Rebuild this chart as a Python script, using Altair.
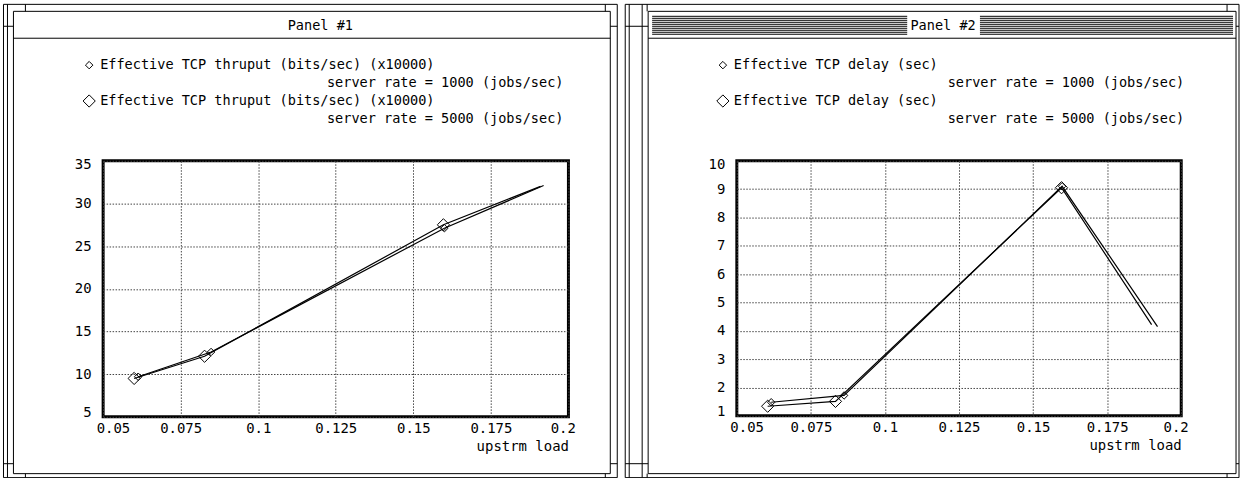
import altair as alt
import pandas as pd

# Upstream load (x) with the measured throughput for the two server rates
load_thru_1000 = [0.0613, 0.0848, 0.1600, 0.1920]
thru_1000 = [9.7, 12.6, 27.1, 32.1]
load_thru_5000 = [0.0600, 0.0827, 0.1597, 0.1910]
thru_5000 = [9.5, 12.1, 27.5, 32.0]

# Upstream load (x) with the measured delay for the two server rates
load_delay_1000 = [0.0616, 0.0862, 0.1598, 0.1920]
delay_1000 = [1.48, 1.72, 9.10, 4.15]
load_delay_5000 = [0.0604, 0.0833, 0.1596, 0.1900]
delay_5000 = [1.34, 1.51, 9.05, 4.22]

x_ticks = [0.05, 0.075, 0.1, 0.125, 0.15, 0.175, 0.2]
thru_ticks = [5, 10, 15, 20, 25, 30, 35]
delay_ticks = [1, 2, 3, 4, 5, 6, 7, 8, 9, 10]

FONT = "DejaVu Sans Mono"
TXT = 13.6
SMALL = 56
LARGE = 150
GRID = dict(grid=True, gridColor="#444", gridDash=[1.5, 1.5], gridWidth=1)
one = pd.DataFrame({"k": [0]})


def frame_kit(ox, oy):
    """Drawing helpers in page pixels, shifted to a panel's plot origin."""

    def box(x1, y1, x2, y2, w=1):
        return alt.Chart(one).mark_rect(filled=False, stroke="black", strokeWidth=w).encode(
            x=alt.value(x1 - ox), x2=alt.value(x2 - ox),
            y=alt.value(y1 - oy), y2=alt.value(y2 - oy))

    def hline(x1, x2, y):
        return alt.Chart(one).mark_rule(color="black", strokeWidth=1).encode(
            x=alt.value(x1 - ox), x2=alt.value(x2 - ox), y=alt.value(y - oy))

    def vline(x, y1, y2):
        return alt.Chart(one).mark_rule(color="black", strokeWidth=1).encode(
            x=alt.value(x - ox), y=alt.value(y1 - oy), y2=alt.value(y2 - oy))

    def text(s, x, y, align="left", size=TXT):
        return alt.Chart(one).mark_text(
            text=s, align=align, baseline="middle", font=FONT, fontSize=size, color="black"
        ).encode(x=alt.value(x - ox), y=alt.value(y - oy))

    def diamond(x, y, size):
        return alt.Chart(one).mark_point(
            shape="diamond", filled=False, color="black", strokeWidth=1, size=size, opacity=1
        ).encode(x=alt.value(x - ox), y=alt.value(y - oy))

    return box, hline, vline, text, diamond


def x_enc():
    return alt.X(
        "load:Q",
        scale=alt.Scale(domain=[0.05, 0.2], nice=False, zero=False),
        axis=alt.Axis(
            values=x_ticks, labelExpr="'' + datum.value", **GRID, ticks=False, domain=False,
            labelFont=FONT, labelFontSize=14, labelColor="black", labelPadding=5,
            labelFlush=True, labelFlushOffset=7, title="upstrm load", titleFont=FONT,
            titleFontSize=14, titleFontWeight="normal", titleColor="black",
            titleAnchor="end", titlePadding=4,
        ),
    )


def y_enc(domain, ticks):
    return alt.Y(
        "value:Q",
        scale=alt.Scale(domain=domain, nice=False, zero=False),
        axis=alt.Axis(
            values=ticks, **GRID, ticks=False, domain=False, labelFont=FONT,
            labelFontSize=14, labelColor="black", labelPadding=12, labelFlush=True,
            labelFlushOffset=3, title=None,
        ),
    )


def series(xs, ys, size, domain, ticks):
    df = pd.DataFrame({"load": xs, "value": ys, "idx": list(range(len(xs)))})
    line = alt.Chart(df).mark_line(color="black", strokeWidth=1.2).encode(
        x=x_enc(), y=y_enc(domain, ticks), order="idx:O")
    # the last sample of each curve carries no marker
    pts = alt.Chart(df.iloc[:-1]).mark_point(
        shape="diamond", filled=False, color="black", strokeWidth=1, size=size, opacity=1
    ).encode(x=x_enc(), y=y_enc(domain, ticks))
    return [line, pts]


def window(box, hline, vline, left, right, inner_left, inner_right):
    """Window border: outer frame, inner frame, title bar rule and corner handles."""
    return [
        box(left, 2, right, 477),
        vline(left + 4, 2, 477),
        box(inner_left, 9, inner_right, 473),
        hline(inner_left, inner_right, 36),
        vline(left + 22, 2, 9), vline(right - 12, 2, 9),
        vline(left + 22, 473, 477), vline(right - 12, 473, 477),
        hline(left, inner_left, 24), hline(inner_right, right, 24),
        hline(left, inner_left, 463), hline(inner_right, right, 463),
    ]


# ---------- Panel 1: throughput ----------
O1 = (102, 159)
box, hline, vline, text, diamond = frame_kit(*O1)
deco1 = window(box, hline, vline, 2, 618, 12, 611) + [
    text("Panel #1", 320, 24, align="center"),
    diamond(88, 63, SMALL),
    text("Effective TCP thruput (bits/sec) (x10000)", 99, 63),
    text("server rate = 1000 (jobs/sec)", 564, 81, align="right"),
    diamond(88, 99, LARGE),
    text("Effective TCP thruput (bits/sec) (x10000)", 99, 99),
    text("server rate = 5000 (jobs/sec)", 564, 117, align="right"),
]
panel1 = alt.layer(
    *deco1,
    *series(load_thru_1000, thru_1000, SMALL, [5, 35], thru_ticks),
    *series(load_thru_5000, thru_5000, LARGE, [5, 35], thru_ticks),
).properties(width=467, height=257)

# ---------- Panel 2: delay ----------
O2 = (735, 159)
box, hline, vline, text, diamond = frame_kit(*O2)
stripes = []
for yy in range(14, 34, 2):
    stripes.append(hline(650, 906, yy))
    stripes.append(hline(979, 1233, yy))
deco2 = window(box, hline, vline, 623, 1239, 646, 1236) + [
    vline(640, 2, 477),
    *stripes,
    text("Panel #2", 942, 24, align="center"),
    diamond(721, 63, SMALL),
    text("Effective TCP delay (sec)", 732, 63),
    text("server rate = 1000 (jobs/sec)", 1184, 81, align="right"),
    diamond(721, 99, LARGE),
    text("Effective TCP delay (sec)", 732, 99),
    text("server rate = 5000 (jobs/sec)", 1184, 117, align="right"),
]
panel2 = alt.layer(
    *deco2,
    *series(load_delay_1000, delay_1000, SMALL, [1, 10], delay_ticks),
    *series(load_delay_5000, delay_5000, LARGE, [1, 10], delay_ticks),
).properties(width=446, height=256)

chart = (
    alt.hconcat(panel1, panel2, spacing=4)
    .properties(background="white", padding={"left": 1.5, "top": 1.5, "right": 0, "bottom": 0})
    .configure_view(stroke="black", strokeWidth=3)
)

chart.save("out.html", embed_options={"renderer": "svg", "actions": False})
